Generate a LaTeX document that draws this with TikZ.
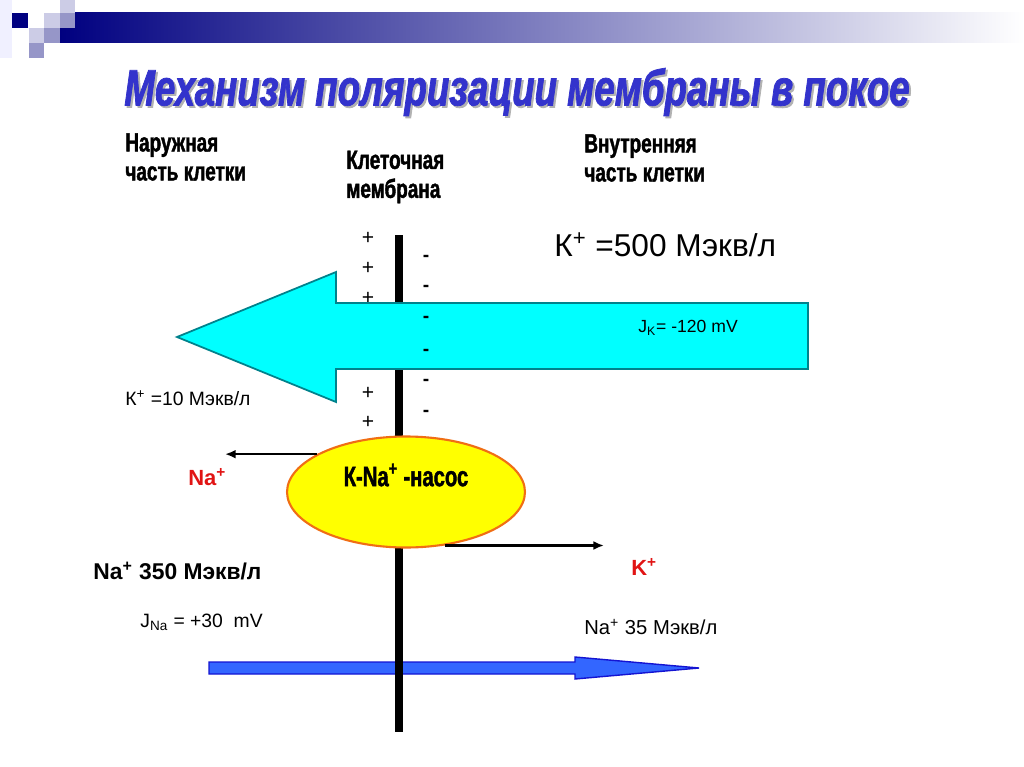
\documentclass[tikz,border=0pt]{standalone}
\usepackage{fontspec}
\setmainfont{Liberation Sans}
\newfontfamily\impactfont[FakeStretch=0.72,FakeBold=1.5]{Liberation Sans}
\usetikzlibrary{shapes.geometric,arrows.meta}

\definecolor{navy}{RGB}{0,0,128}
\definecolor{lightlav}{RGB}{204,204,230}
\definecolor{midlav}{RGB}{150,150,200}
\definecolor{titleblue}{RGB}{51,51,204}
\definecolor{arrowcyan}{RGB}{0,255,255}
\definecolor{cyanedge}{RGB}{0,130,140}
\definecolor{pumpyellow}{RGB}{255,255,0}
\definecolor{pumpedge}{RGB}{240,110,20}
\definecolor{naarrow}{RGB}{51,102,255}
\definecolor{naedge}{RGB}{20,20,210}
\definecolor{ionred}{RGB}{225,20,20}

\begin{document}
\begin{tikzpicture}[x=0.02cm, y=-0.02cm,
  txt/.style={inner sep=0pt, anchor=west},
  header/.style={txt, align=left, font=\impactfont\bfseries\fontsize{15}{16.5}\selectfont},
  plussign/.style={inner sep=0pt, font=\fontsize{12}{12}\selectfont},
  minussign/.style={inner sep=0pt, font=\bfseries\fontsize{11}{11}\selectfont},
  pumparrow/.style={-{Latex[length=6pt,width=5pt]}, line width=1.2pt}]
\useasboundingbox[fill=white] (0,0) rectangle (1024,767);

% Top bar and squares
\fill[blue!6] (0,0) rectangle (12,58);
\shade[left color=navy, right color=white] (60,13) rectangle (1024,43);
\fill[navy] (12,13) rectangle (28,28);
\fill[lightlav] (44,13) rectangle (60,28);
\fill[lightlav] (60,0) rectangle (75,13);
\fill[midlav] (60,13) rectangle (75,28);
\fill[lightlav] (29,28) rectangle (44,43);
\fill[midlav] (44,28) rectangle (60,43);
\fill[midlav] (29,43) rectangle (44,58);

% Title
\node[font=\impactfont\bfseries\itshape\fontsize{29}{29}\selectfont, text=gray!60] (ttlshadow) at (519,94) {Механизм поляризации мембраны в покое};
\node[font=\impactfont\bfseries\itshape\fontsize{29}{29}\selectfont, text=titleblue] (ttl) at (517,92) {Механизм поляризации мембраны в покое};

% Headers
\node[header] (outside) at (125,157) {Наружная\\часть клетки};
\node[header] (membrane) at (346,177) {Клеточная\\мембрана};
\node[header] (inside) at (584,158) {Внутренняя\\часть клетки};

% Na flux
\draw[fill=naarrow, draw=naedge, line width=0.8pt] (209,662) -- (575,662) -- (575,657) -- (699,668) -- (575,679) -- (575,674) -- (209,674) -- cycle;

% Membrane
\coordinate (memtop) at (399,235);
\coordinate (membot) at (399,732);
\draw[line width=4.3pt] (memtop) -- (membot);

% Charges outside
\foreach \y in {238,268,298,393,422}
  \node[plussign] (p\y) at (368,\y) {+};

% K flux
\draw[fill=arrowcyan, draw=cyanedge, line width=1pt] (808,303) -- (336,303) -- (336,272) -- (177,337) -- (336,402) -- (336,369) -- (808,369) -- cycle;

% Charges inside
\foreach \y in {258,288,319,352,382,413}
  \node[minussign] (m\y) at (426,\y) {-};

% Pump
\node[ellipse, draw=pumpedge, fill=pumpyellow, line width=1.2pt, minimum width=4.76cm, minimum height=2.22cm] (pump) at (406,492) {};
\node[font=\impactfont\bfseries\fontsize{16}{16}\selectfont] (pumptext) at (406,475) {К-Na\textsuperscript{+} -насос};

% Pump arrows
\coordinate (naend) at (225,0);
\coordinate (kend) at (604,0);
\draw[pumparrow] (pump.157) -- (pump.157 -| naend);
\draw[pumparrow] (pump.306) -- (pump.306 -| kend);

% Labels
\node[txt, font=\fontsize{18}{18}\selectfont] (kin) at (554,245) {К\textsuperscript{+} =500 Мэкв/л};
\node[txt, font=\fontsize{10}{10}\selectfont] (jk) at (638,328) {J\textsubscript{K}= -120 mV};
\node[txt, font=\fontsize{11}{11}\selectfont] (kout) at (125,398) {К\textsuperscript{+} =10 Мэкв/л};
\node[txt, font=\bfseries\fontsize{12.5}{12.5}\selectfont, text=ionred] (naout) at (188,477) {Na\textsuperscript{+}};
\node[txt, font=\bfseries\fontsize{12.5}{12.5}\selectfont, text=ionred] (kred) at (631,567) {K\textsuperscript{+}};
\node[txt, font=\bfseries\fontsize{13}{13}\selectfont] (nabig) at (93,571) {Na\textsuperscript{+} 350 Мэкв/л};
\node[txt, font=\fontsize{11}{11}\selectfont] (jna) at (140,622) {J\textsubscript{Na} = +30\ \ mV};
\node[txt, font=\fontsize{11.5}{11.5}\selectfont] (nain) at (584,627) {Na\textsuperscript{+} 35 Мэкв/л};
\end{tikzpicture}
\end{document}
